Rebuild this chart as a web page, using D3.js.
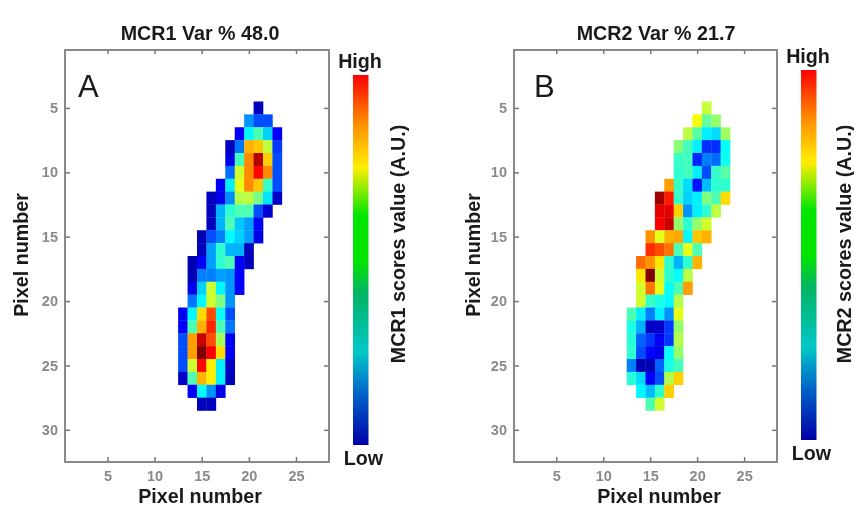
<!DOCTYPE html>
<html>
<head>
<meta charset="utf-8">
<script src="https://cdnjs.cloudflare.com/ajax/libs/d3/7.8.5/d3.min.js"></script>
<style>
    body { margin: 0; background: #fff; }
    svg { display: block; font-family: "Liberation Sans", Arial, sans-serif; filter: blur(0.55px); }
    .tick text { font-size: 14.5px; font-weight: bold; fill: #8a8a8a; }
    .tick line { stroke: #777; stroke-width: 1.5px; }
    .domain { display: none; }
    .label { font-weight: bold; fill: #1a1a1a; font-size: 19.7px; }
</style>
</head>
<body>
<div id="chart"></div>
<script>
// first column of each row, rows 5..28
let rowNumbers = [5, 6, 7, 8, 9, 10, 11, 12, 13, 14, 15, 16, 17, 18, 19, 20, 21, 22, 23, 24, 25, 26, 27, 28];

let startsA = [21, 20, 19, 18, 18, 18, 17, 16, 16, 16, 15, 15, 14, 14, 14, 14, 13, 13, 13, 13, 13, 13, 14, 15];
let scoresA = [
    [.06],
    [.27, .2, .2],
    [.12, .37, .45, .33, .12],
    [.06, .24, .7, .68, .56, .18],
    [.1, .44, .74, .95, .67, .2],
    [.23, .58, .74, .87, .74, .2],
    [.12, .36, .6, .74, .68, .43, .2],
    [.06, .1, .26, .55, .56, .49, .35, .07],
    [.06, .3, .42, .45, .45, .2, .08],
    [.06, .3, .45, .32, .28, .12],
    [.05, .2, .25, .37, .33, .28, .1],
    [.06, .28, .42, .3, .3, .06],
    [.05, .12, .28, .42, .45, .12, .06],
    [.05, .25, .25, .28, .27, .12],
    [.1, .33, .58, .37, .27, .12],
    [.24, .37, .58, .5, .27],
    [.12, .37, .66, .8, .38, .2],
    [.12, .45, .7, .84, .45, .24],
    [.2, .72, .93, .8, .54, .12],
    [.2, .72, 1, .88, .66, .12],
    [.2, .58, .87, .64, .36, .07],
    [.07, .45, .7, .64, .36, .06],
    [.12, .38, .27, .1],
    [.06, .06]
];

let startsB = [21, 20, 19, 18, 18, 18, 17, 16, 16, 16, 15, 15, 14, 14, 14, 14, 13, 13, 13, 13, 13, 13, 14, 15];
let scoresB = [
    [.57],
    [.62, .47, .52],
    [.56, .46, .36, .34, .53],
    [.51, .44, .36, .17, .17, .38],
    [.43, .44, .16, .25, .23, .39],
    [.42, .44, .36, .2, .43, .46],
    [.72, .43, .34, .14, .31, .42, .42],
    [.97, .85, .43, .33, .36, .5, .45, .66],
    [.9, .9, .67, .27, .36, .42, .56],
    [.88, .93, .52, .42, .52, .58],
    [.73, .6, .7, .71, .37, .68, .7],
    [.83, .8, .76, .45, .6, .45],
    [.77, .73, .65, .42, .3, .42, .7],
    [.65, 1, .58, .42, .38, .56],
    [.58, .76, .6, .38, .45, .72],
    [.58, .43, .4, .37, .55],
    [.45, .36, .25, .36, .27, .6],
    [.4, .3, .07, .07, .18, .52],
    [.41, .22, .18, .12, .18, .55],
    [.42, .2, .13, .1, .38, .52],
    [.25, .05, .05, .22, .4, .44],
    [.41, .34, .12, .2, .55, .67],
    [.37, .31, .42, .67],
    [.45, .58]
];

let xTicks = [5, 10, 15, 20, 25];
let yTicks = [5, 10, 15, 20, 25, 30];

// colour map of the cells
let jetStops = [0, .125, .375, .625, .875, 1];
let jetColors = ["#000080", "#0000ff", "#00ffff", "#ffff00", "#ff0000", "#800000"];

// colour bar is a bit different from the cells
let barStops = [0, .14, .25, .41, .5, .62, .75, .87, 1];
let barColors = ["#0000aa", "#0064c8", "#00c8c8", "#00b464", "#00e600", "#00e600", "#ffee00", "#ff8c00", "#ff0000"];

let width = 854, height = 508;

let svg = d3.select("#chart").append("svg")
    .attr("width", width)
    .attr("height", height);

let jet = d3.scaleLinear().domain(jetStops).range(jetColors);

let defs = svg.append("defs");
let grad = defs.append("linearGradient")
    .attr("id", "barGrad")
    .attr("x1", 0).attr("y1", 1).attr("x2", 0).attr("y2", 0);
barStops.forEach(function (s, i) {
    grad.append("stop").attr("offset", s).attr("stop-color", barColors[i]);
});

function drawPanel(p) {
    let x = d3.scaleLinear().domain([.5, 28.5]).range([p.left, p.right]);
    let y = d3.scaleLinear().domain([.5, 32.5]).range([50, 462]);

    // Cells
    let cells = [];
    rowNumbers.forEach(function (row, i) {
        p.scores[i].forEach(function (v, j) {
            cells.push({row: row, col: p.starts[i] + j, value: v});
        });
    });
    svg.append("g").selectAll("rect")
        .data(cells)
        .enter()
        .append("rect")
        .attr("x", function (d) { return x(d.col - .5); })
        .attr("y", function (d) { return y(d.row - .5); })
        .attr("width", x(1.5) - x(.5) + .3)
        .attr("height", y(1.5) - y(.5) + .3)
        .attr("fill", function (d) { return jet(d.value); });

    // Axes, ticks point inward on all four sides
    svg.append("g")
        .attr("transform", "translate(0,462)")
        .call(d3.axisBottom(x).tickValues(xTicks).tickSizeInner(-5).tickSizeOuter(0).tickPadding(9));
    svg.append("g")
        .attr("transform", "translate(0,50)")
        .call(d3.axisTop(x).tickValues(xTicks).tickSizeInner(-4).tickSizeOuter(0).tickFormat(""));
    svg.append("g")
        .attr("transform", "translate(" + p.left + ",0)")
        .call(d3.axisLeft(y).tickValues(yTicks).tickSizeInner(-5).tickSizeOuter(0).tickPadding(7));
    svg.append("g")
        .attr("transform", "translate(" + p.right + ",0)")
        .call(d3.axisRight(y).tickValues(yTicks).tickSizeInner(-5).tickSizeOuter(0).tickFormat(""));

    // Frame
    svg.append("rect")
        .attr("x", p.left)
        .attr("y", 50)
        .attr("width", p.right - p.left)
        .attr("height", 412)
        .attr("fill", "none")
        .attr("stroke", "#7d7d7d")
        .attr("stroke-width", 1.8);

    // Title and axis labels
    svg.append("text").attr("class", "label")
        .attr("x", p.titleX)
        .attr("y", 40)
        .style("text-anchor", "middle")
        .text(p.title);
    svg.append("text").attr("class", "label")
        .attr("x", p.xLabelX)
        .attr("y", 503)
        .style("text-anchor", "middle")
        .text("Pixel number");
    svg.append("text").attr("class", "label")
        .attr("transform", "translate(" + p.yLabelX + ",255) rotate(-90)")
        .style("text-anchor", "middle")
        .text("Pixel number");

    // Panel letter
    svg.append("text")
        .attr("x", p.letterX)
        .attr("y", 97)
        .style("font-size", "31px")
        .style("fill", "#1a1a1a")
        .text(p.letter);

    // Colour bar
    svg.append("rect")
        .attr("x", p.barX)
        .attr("y", p.barTop)
        .attr("width", 15.5)
        .attr("height", 370)
        .attr("fill", "url(#barGrad)");
    svg.append("text").attr("class", "label")
        .attr("x", p.barX + 7)
        .attr("y", p.barTop - 7)
        .style("text-anchor", "middle")
        .text("High");
    svg.append("text").attr("class", "label")
        .attr("x", p.barX + 10.5)
        .attr("y", p.barTop + 390)
        .style("text-anchor", "middle")
        .text("Low");
    svg.append("text").attr("class", "label")
        .attr("transform", "translate(" + p.barLabelX + ",244) rotate(-90)")
        .style("text-anchor", "middle")
        .text(p.barLabel);
}

drawPanel({
    left: 65, right: 329, starts: startsA, scores: scoresA, titleX: 200, xLabelX: 200,
    title: "MCR1 Var % 48.0", letter: "A", letterX: 78, yLabelX: 28,
    barX: 353, barTop: 75, barLabelX: 405, barLabel: "MCR1 scores value (A.U.)"
});
drawPanel({
    left: 514, right: 777, starts: startsB, scores: scoresB, titleX: 656, xLabelX: 659,
    title: "MCR2 Var % 21.7", letter: "B", letterX: 534, yLabelX: 480,
    barX: 801, barTop: 70, barLabelX: 851, barLabel: "MCR2 scores value (A.U.)"
});
</script>
</body>
</html>
